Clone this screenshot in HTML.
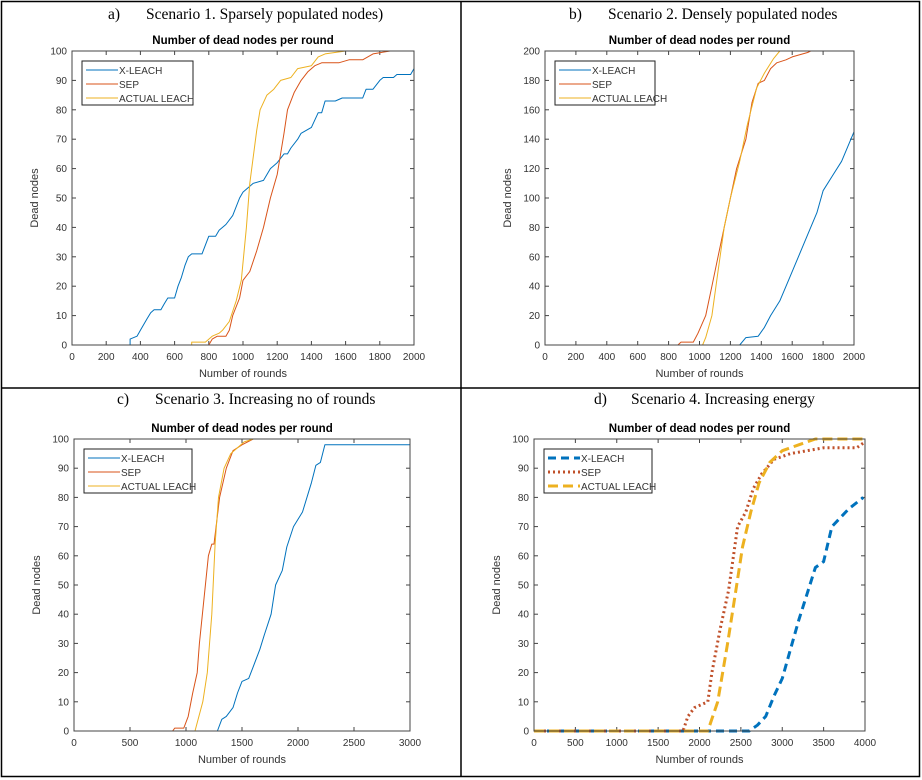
<!DOCTYPE html>
<html><head><meta charset="utf-8"><style>
body{margin:0;background:#fff;width:922px;height:780px;overflow:hidden;font-family:"Liberation Sans",sans-serif}
svg{position:absolute;left:0;top:0}
</style></head><body>
<svg id="s" width="922" height="780">
<rect x="1.5" y="1.5" width="918" height="775" fill="none" stroke="#000" stroke-width="1.5"/>
<line x1="461" y1="1.5" x2="461" y2="776.5" stroke="#000" stroke-width="1.5"/>
<line x1="1.5" y1="388" x2="919.5" y2="388" stroke="#000" stroke-width="1.5"/>
<g font-family="Liberation Serif,serif" font-size="15.5" fill="#000">
<text x="108" y="19">a)<tspan x="146">Scenario 1. Sparsely populated nodes)</tspan></text>
<text x="569" y="19">b)<tspan x="608">Scenario 2. Densely populated nodes</tspan></text>
<text x="117" y="404">c)<tspan x="155">Scenario 3. Increasing no of rounds</tspan></text>
<text x="594" y="404">d)<tspan x="631">Scenario 4. Increasing energy</tspan></text>
</g>
</svg>
<script>
// Panel A data
const aXLeachX=[0,340,340,380,400,420,440,460,480,520,540,560,600,620,640,660,680,700,760,800,840,860,900,940,980,1000,1060,1120,1160,1200,1240,1260,1280,1320,1340,1400,1440,1460,1480,1540,1580,1700,1720,1760,1800,1820,1880,1900,1980,2000];
const aXLeachY=[0,0,2,3,5,7,9,11,12,12,14,16,16,20,23,27,30,31,31,37,37,39,41,44,50,52,55,56,60,62,65,65,67,70,72,74,79,79,83,83,84,84,87,87,90,91,91,92,92,94];
const aSepX=[0,800,820,850,900,920,940,980,1000,1040,1080,1120,1160,1200,1220,1240,1260,1300,1340,1380,1420,1460,1560,1620,1700,1760,1860,2000];
const aSepY=[0,0,2,3,3,5,10,16,22,25,32,40,50,58,65,72,80,86,90,93,95,96,96,97,97,99,100,100];
const aActX=[0,700,700,780,820,860,880,920,960,990,1020,1040,1080,1100,1140,1180,1220,1280,1320,1400,1440,1480,1600,2000];
const aActY=[0,0,1,1,3,4,5,8,15,22,40,55,73,80,85,87,90,91,94,95,98,99,100,100];
// Panel B data
const bXLeachX=[0,1260,1300,1380,1420,1460,1520,1580,1640,1700,1760,1800,1860,1920,1960,2000];
const bXLeachY=[0,0,5,6,12,20,30,45,60,75,90,105,115,125,135,145];
const bSepX=[0,860,880,960,990,1040,1080,1120,1160,1200,1240,1300,1340,1380,1420,1460,1500,1560,1600,1700,1720,2000];
const bSepY=[0,0,2,2,8,20,40,60,80,100,120,140,165,178,180,188,192,194,196,199,200,200];
const bActX=[0,1020,1040,1080,1120,1160,1200,1260,1310,1370,1420,1480,1520,2000];
const bActY=[0,0,5,20,50,80,100,125,150,175,185,195,200,200];
// Panel C data
const cXLeachX=[0,1280,1320,1360,1420,1460,1500,1560,1600,1660,1700,1760,1800,1860,1900,1960,2040,2120,2160,2200,2240,3000];
const cXLeachY=[0,0,4,5,8,13,17,18,22,28,33,40,50,55,63,70,75,85,91,92,98,98];
const cSepX=[0,880,900,980,1020,1060,1100,1120,1160,1200,1230,1250,1300,1360,1420,1500,1600,3000];
const cSepY=[0,0,1,1,5,13,20,30,45,60,64,64,80,90,96,98,100,100];
const cActX=[0,1080,1150,1190,1230,1260,1290,1340,1400,1460,1520,1600,3000];
const cActY=[0,0,10,20,40,64,80,90,95,97,99,100,100];
// Panel D data
const dXLeachX=[0,2600,2700,2800,2900,3000,3100,3200,3300,3400,3500,3600,3800,3980];
const dXLeachY=[0,0,2,5,12,18,28,38,47,56,58,70,76,80];
const dSepX=[0,1800,1860,1940,2100,2150,2250,2350,2420,2460,2560,2650,2750,2900,3100,3300,3500,3900,4000];
const dSepY=[0,0,5,8,10,20,35,48,62,70,75,83,88,93,95,96,97,97,99];
const dActX=[0,2100,2220,2340,2450,2520,2620,2720,2850,3000,3200,3400,4000];
const dActY=[0,0,10,30,50,63,75,85,92,96,98,100,100];
const ticks100=[0,10,20,30,40,50,60,70,80,90,100];
const ticks200=[0,20,40,60,80,100,120,140,160,180,200];
const ticksX2000=[0,200,400,600,800,1000,1200,1400,1600,1800,2000];
const ticksX3000=[0,500,1000,1500,2000,2500,3000];
const ticksX4000=[0,500,1000,1500,2000,2500,3000,3500,4000];

const NS='http://www.w3.org/2000/svg';
const svg=document.getElementById('s');
const C={x:'#0072BD',s:'#D95319',a:'#EDB120'};
function mk(tag,at,parent){const e=document.createElementNS(NS,tag);for(const k in at)e.setAttribute(k,at[k]);(parent||svg).appendChild(e);return e;}
function panel(id,L,R,T,B,xmax,ymax,xt,yt,series,thick,legW){
  const g=mk('g',{});
  
  
  const sx=v=>L+(R-L)*v/xmax, sy=v=>B-(B-T)*v/ymax;
  const t=mk('text',{x:(L+R)/2,y:T-7,'text-anchor':'middle','font-size':'11.5','font-weight':'bold',fill:'#000'},g);
  t.textContent='Number of dead nodes per round';
  
  
  for(const v of xt){const x=sx(v);
    mk('line',{x1:x,y1:B,x2:x,y2:B-4,stroke:'#444'},g);mk('line',{x1:x,y1:T,x2:x,y2:T+4,stroke:'#444'},g);
    const l=mk('text',{x:x,y:B+15,'text-anchor':'middle','font-size':'10',fill:'#333'},g);l.textContent=v;
    
    }
  for(const v of yt){const y=sy(v);
    mk('line',{x1:L,y1:y,x2:L+4,y2:y,stroke:'#444'},g);mk('line',{x1:R,y1:y,x2:R-4,y2:y,stroke:'#444'},g);
    const l=mk('text',{x:L-5,y:y+3.5,'text-anchor':'end','font-size':'10',fill:'#333'},g);l.textContent=v;
    
    }
  const xl=mk('text',{x:(L+R)/2,y:B+32,'text-anchor':'middle','font-size':'11',fill:'#333'},g);xl.textContent='Number of rounds';
  
  
  const yx=L-34, yy=(T+B)/2;
  const yl=mk('text',{x:yx,y:yy,'text-anchor':'middle','font-size':'11',fill:'#333',transform:`rotate(-90 ${yx} ${yy})`},g);yl.textContent='Dead nodes';
  
  
  for(const s of series){
    const pts=s.xs.map((v,i)=>sx(v).toFixed(1)+','+sy(s.ys[i]).toFixed(1)).join(' ');
    const at={points:pts,fill:'none',stroke:s.c,'stroke-width':thick?3:1,'stroke-linejoin':'round'};
    if(thick&&s.dash)at['stroke-dasharray']=s.dash;
    const p=mk('polyline',at,g);
    
    
  }
  mk('rect',{x:L,y:T,width:R-L,height:B-T,fill:'none',stroke:'#444','stroke-width':1},g);
  const lg=mk('g',{},g);
  
  
  const lx=L+10, ly=T+10;
  mk('rect',{x:lx,y:ly,width:legW,height:44,fill:'#fff',stroke:'#222','stroke-width':1},lg);
  series.forEach((s,i)=>{const y=ly+9+i*14;
    const at={x1:lx+4,y1:y,x2:lx+36,y2:y,stroke:s.c,'stroke-width':thick?3:1};
    if(thick&&s.dash)at['stroke-dasharray']=s.dash;
    mk('line',at,lg);
    const tx=mk('text',{x:lx+37,y:y+4,'font-size':'10',fill:'#333'},lg);tx.textContent=s.n;
    
    });
}
panel('a',72,414,51,345,2000,100,ticksX2000,ticks100,[
 {n:'X-LEACH',c:C.x,xs:aXLeachX,ys:aXLeachY},{n:'SEP',c:C.s,xs:aSepX,ys:aSepY},{n:'ACTUAL LEACH',c:C.a,xs:aActX,ys:aActY}],false,111);
panel('b',545,854,51,345,2000,200,ticksX2000,ticks200,[
 {n:'X-LEACH',c:C.x,xs:bXLeachX,ys:bXLeachY},{n:'SEP',c:C.s,xs:bSepX,ys:bSepY},{n:'ACTUAL LEACH',c:C.a,xs:bActX,ys:bActY}],false,100);
panel('c',74,410,439,731,3000,100,ticksX3000,ticks100,[
 {n:'X-LEACH',c:C.x,xs:cXLeachX,ys:cXLeachY},{n:'SEP',c:C.s,xs:cSepX,ys:cSepY},{n:'ACTUAL LEACH',c:C.a,xs:cActX,ys:cActY}],false,108);
panel('d',534,865,439,731,4000,100,ticksX4000,ticks100,[
 {n:'X-LEACH',c:C.x,xs:dXLeachX,ys:dXLeachY,dash:'8,5'},{n:'SEP',c:'#C0502A',xs:dSepX,ys:dSepY,dash:'2,3'},{n:'ACTUAL LEACH',c:C.a,xs:dActX,ys:dActY,dash:'10,5'}],true,108);
</script>
</body></html>
